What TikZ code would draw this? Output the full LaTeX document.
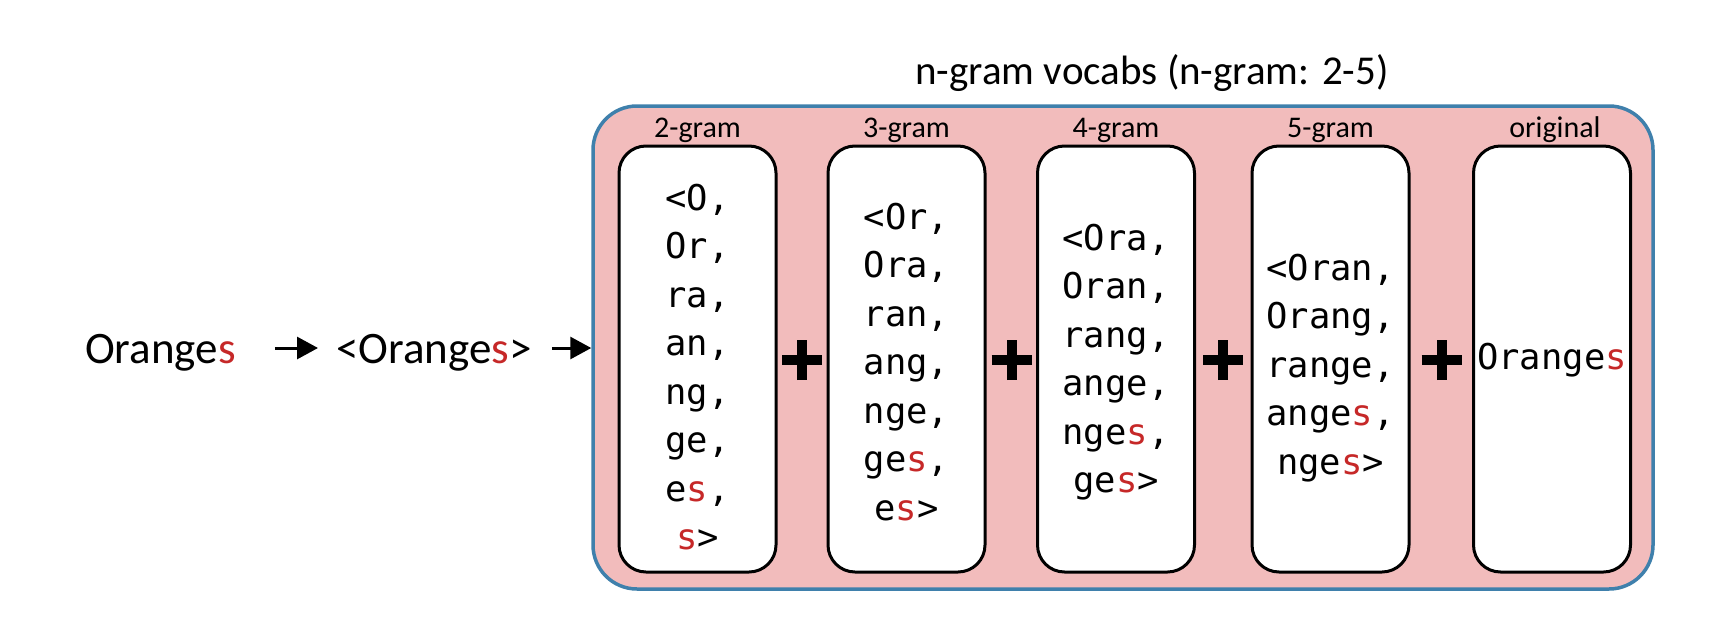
\documentclass[tikz,border=0pt]{standalone}
\usepackage{fontspec}
\setmainfont{Carlito}
\newfontfamily\monofam{DejaVu Sans Mono}
\usetikzlibrary{arrows.meta}
\definecolor{sred}{HTML}{C62828}
\definecolor{pinkfill}{HTML}{F2BCBC}
\definecolor{bordblue}{HTML}{3F80AC}
\newcommand\rs{\textcolor{sred}{s}}
\begin{document}
\begin{tikzpicture}[x=1pt,y=-1pt,
  outer/.style={draw=bordblue, fill=pinkfill, line width=3.5pt, rounded corners=44pt, minimum width=1060pt, minimum height=483pt, inner sep=0pt},
  gbox/.style={draw=black, fill=white, line width=3pt, rounded corners=27pt, minimum width=157pt, minimum height=426pt, inner sep=0pt},
  gtext/.style={font=\monofam\fontsize{35.5}{48.5}\selectfont, align=center, inner sep=0pt},
  lab/.style={font=\fontsize{30}{36}\selectfont, anchor=base, inner sep=0pt},
  word/.style={font=\fontsize{45}{54}\selectfont, anchor=base west, inner sep=0pt},
  arr/.style={-{Triangle[length=21pt,width=22pt]}, line width=3pt},
  plusbar/.style={line width=10pt},
  dot/.style={inner sep=0pt, minimum size=0pt}
]
\useasboundingbox (0,0) rectangle (1718,640);
\fill[white] (0,0) rectangle (1718,640);

% left words
\node[word] (w1) at (85,363) {Orange\rs};
\node[word] (w2) at (336,363) {<Orange\rs>};

% title
\node[font=\fontsize{41}{48}\selectfont, anchor=base, inner sep=0pt] (title) at (1152,84) {n-gram vocabs (n-gram: 2-5)};

% outer box
\node[outer] (outer) at (1123,347.5) {};

% arrows
\draw[arr, shorten <=39pt, shorten >=18pt] (w1.east |- 0,348) -- (w2.west |- 0,348);
\draw[arr, shorten <=20pt] (w2.east |- 0,348) -- (outer.west |- 0,348);

% n-gram boxes
\node[gbox] (g2) at (697.5,359) {};
\node[gbox] (g3) at (906.5,359) {};
\node[gbox] (g4) at (1116,359) {};
\node[gbox] (g5) at (1330.5,359) {};
\node[gbox] (go) at (1552,359) {};

\node[gtext] (t2) at (697.5,367) {<O,\\Or,\\ra,\\an,\\ng,\\ge,\\e\rs,\\\rs>};
\node[gtext] (t3) at (906.5,362) {<Or,\\Ora,\\ran,\\ang,\\nge,\\ge\rs,\\e\rs>};
\node[gtext] (t4) at (1116,362) {<Ora,\\Oran,\\rang,\\ange,\\nge\rs,\\ge\rs>};
\node[gtext] (t5) at (1330.5,368) {<Oran,\\Orang,\\range,\\ange\rs,\\nge\rs>};
\node[gtext] (to) at (1552,360) {Orange\rs};

% labels
\node[lab] (l2) at (697.5,137) {2-gram};
\node[lab] (l3) at (906.5,137) {3-gram};
\node[lab] (l4) at (1116,137) {4-gram};
\node[lab] (l5) at (1330.5,137) {5-gram};
\node[lab] (lo) at (1555,137) {original};

% plus signs
\foreach \n/\x in {p1/802, p2/1011.5, p3/1223, p4/1441.5}{
  \node[dot] (\n) at (\x,360) {};
  \draw[plusbar] ([xshift=-20pt]\n.center) -- ([xshift=20pt]\n.center);
  \draw[plusbar] ([yshift=-20pt]\n.center) -- ([yshift=20pt]\n.center);
}
\end{tikzpicture}
\end{document}
